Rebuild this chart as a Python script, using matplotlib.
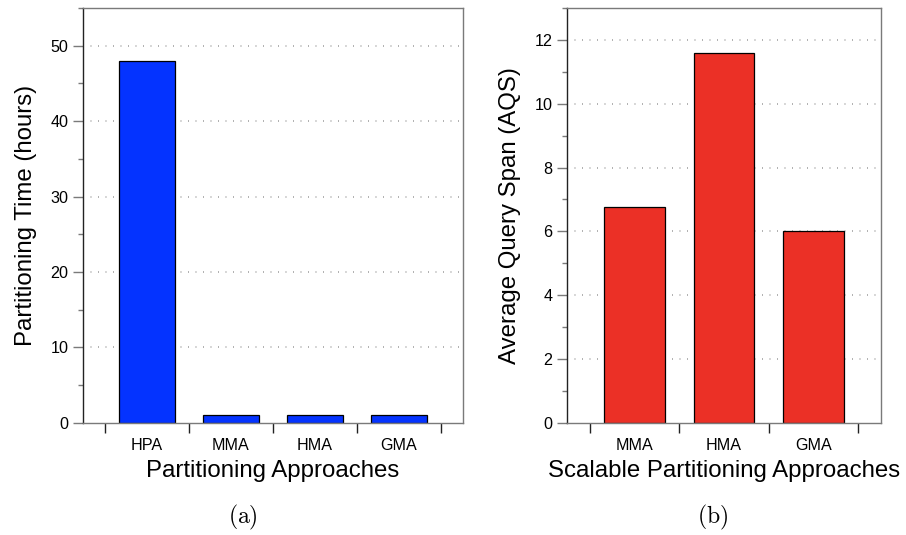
import matplotlib.pyplot as plt
import numpy as np

plt.rcParams['font.family'] = ['Liberation Sans', 'DejaVu Sans']
plt.rcParams['mathtext.fontset'] = 'cm'
plt.rcParams['lines.scale_dashes'] = False

# Partitioning time for all approaches
time_labels = ["HPA", "MMA", "HMA", "GMA"]
time_hours = [48.0, 1.0, 1.0, 1.0]

# Average query span for the scalable approaches
aqs_labels = ["MMA", "HMA", "GMA"]
aqs_values = [6.75, 11.6, 6.0]

blue = "#0433FF"
red = "#EB3026"
spine_grey = "#7a7a7a"


def style_axes(ax, labels, ymax, major, minor):
    n = len(labels)
    x = np.arange(n)
    ax.set_xlim(-0.76, n - 1 + 0.76)
    ax.set_ylim(0, ymax)

    # boundaries get tick marks, centres get the labels
    ax.set_xticks(np.arange(n + 1) - 0.5)
    ax.set_xticklabels([])
    ax.set_xticks(x, minor=True)
    ax.set_xticklabels(labels, minor=True, fontsize=11.6)
    ax.tick_params(axis='x', which='major', direction='out', length=7.5,
                   width=1, color='#222222')
    ax.tick_params(axis='x', which='minor', length=0, pad=11)

    ax.set_yticks(np.arange(0, ymax + 0.01, major))
    ax.set_yticks(np.arange(0, ymax + 0.01, minor), minor=True)
    ax.tick_params(axis='y', which='major', direction='out', length=7.5,
                   width=1, color=spine_grey, labelsize=11.6, pad=3)
    ax.tick_params(axis='y', which='minor', direction='out', length=3.5,
                   width=1, color=spine_grey)

    for yv in np.arange(major, ymax, major):
        ax.axhline(yv, color='#999999', lw=1.1, dashes=(0.7, 4.7), zorder=0)

    ax.spines['left'].set_color('#222222')
    for side in ['right', 'bottom', 'top']:
        ax.spines[side].set_color(spine_grey)
    for sp in ax.spines.values():
        sp.set_linewidth(1.0)
    return x


fig = plt.figure(figsize=(9.06, 5.35), dpi=100)

ax1 = fig.add_axes([0.0916, 0.2099, 0.4194, 0.775])
x1 = style_axes(ax1, time_labels, 55, 10, 5)
ax1.bar(x1, time_hours, width=0.66, color=blue, edgecolor='black',
        linewidth=0.9, zorder=2)
ax1.set_ylabel("Partitioning Time (hours)", fontsize=17.3, labelpad=10)
ax1.set_xlabel("Partitioning Approaches", fontsize=17.3, labelpad=5)

ax2 = fig.add_axes([0.6258, 0.2099, 0.3466, 0.775])
x2 = style_axes(ax2, aqs_labels, 13, 2, 1)
ax2.bar(x2, aqs_values, width=0.68, color=red, edgecolor='black',
        linewidth=0.9, zorder=2)
ax2.set_ylabel("Average Query Span (AQS)", fontsize=17.3, labelpad=10)
ax2.set_xlabel("Scalable Partitioning Approaches", fontsize=17.3, labelpad=5)

fig.text(243 / 906, 1 - 517 / 535, r'$\mathrm{(a)}$', fontsize=17,
         ha='center', va='center')
fig.text(713 / 906, 1 - 517 / 535, r'$\mathrm{(b)}$', fontsize=17,
         ha='center', va='center')

fig.savefig("out.png", dpi=100)
